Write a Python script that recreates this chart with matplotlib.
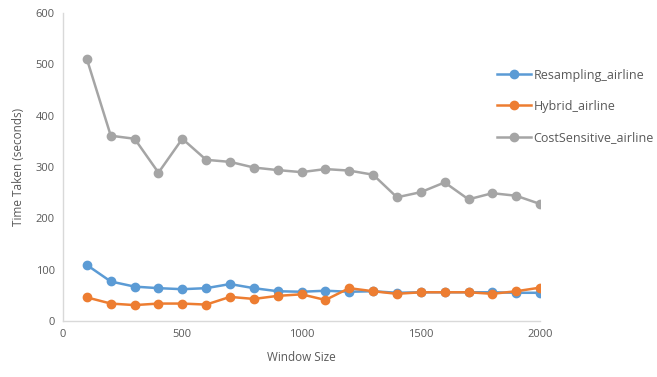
import matplotlib
matplotlib.use("Agg")
import matplotlib.pyplot as plt

window = [100, 200, 300, 400, 500, 600, 700, 800, 900, 1000,
          1100, 1200, 1300, 1400, 1500, 1600, 1700, 1800, 1900, 2000]
resampling = [109, 77, 67, 64, 62, 64, 72, 64, 58, 57,
              59, 57, 58, 55, 56, 56, 56, 56, 55, 55]
hybrid = [46, 34, 31, 34, 34, 32, 47, 43, 49, 52,
          41, 64, 58, 53, 56, 56, 56, 53, 58, 65]
costsens = [510, 361, 355, 289, 355, 314, 310, 299, 294, 290,
            296, 293, 285, 241, 251, 270, 237, 249, 244, 228]
labels = ["Resampling_airline", "Hybrid_airline", "CostSensitive_airline"]
colors = ["#5B9BD5", "#ED7D31", "#A5A5A5"]
xticks = [0, 500, 1000, 1500, 2000]
yticks = [0, 100, 200, 300, 400, 500, 600]

plt.rcParams['font.family'] = ['Open Sans', 'DejaVu Sans']
fig = plt.figure(figsize=(6.57, 3.77), dpi=100)
ax = fig.add_axes([0.096, 0.1485, 0.726, 0.817])

for ys, lab, c in zip([resampling, hybrid, costsens], labels, colors):
    ax.plot(window, ys, color=c, lw=1.8, marker='o', markersize=6, label=lab)

ax.set_xlim(0, 2000)
ax.set_ylim(0, 600)
ax.set_xticks(xticks)
ax.set_yticks(yticks)
for s in ['top', 'right']:
    ax.spines[s].set_visible(False)
for s in ['left', 'bottom']:
    ax.spines[s].set_color('#D9D9D9')
    ax.spines[s].set_linewidth(1.0)
ax.tick_params(length=0, labelsize=8, labelcolor='#595959', pad=6)
ax.set_xlabel("Window Size", fontsize=8.5, color='#595959', labelpad=8)
ax.set_ylabel("Time Taken (seconds)", fontsize=8.5, color='#595959', labelpad=8)

leg = fig.legend(loc='center left', bbox_to_anchor=(0.757, 0.718), frameon=False,
                 prop={'family': ['Liberation Sans Narrow', 'Open Sans'], 'size': 9},
                 labelspacing=1.45, handlelength=2.7, handletextpad=0.2,
                 borderaxespad=0, borderpad=0)
for t in leg.get_texts():
    t.set_color('#595959')

fig.savefig("out.png", dpi=100)
